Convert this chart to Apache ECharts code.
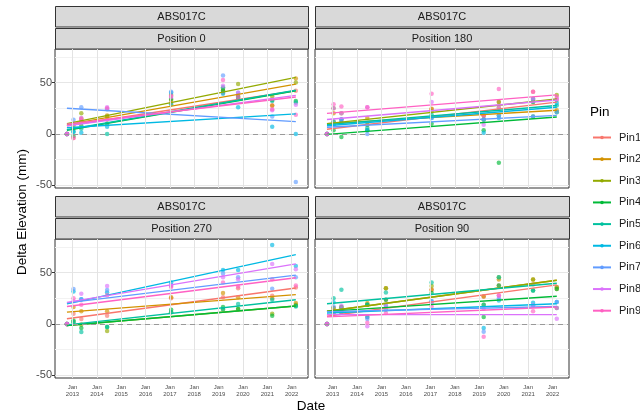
<!DOCTYPE html>
<html>
<head>
<meta charset="utf-8">
<script src="https://cdn.jsdelivr.net/npm/echarts@6/dist/echarts.min.js"></script>
<style>
    html, body { margin: 0; padding: 0; background: #fff; }
    #pin-chart-container { width: 640px; height: 412px; }
</style>
</head>
<body>
<div id="pin-chart-container"></div>
<script>
// Chart data
var siteName = 'ABS017C';
var positions = ['Position 0', 'Position 180', 'Position 270', 'Position 90'];
var pins = ['Pin1', 'Pin2', 'Pin3', 'Pin4', 'Pin5', 'Pin6', 'Pin7', 'Pin8', 'Pin9'];
var pinColors = ['#F8766D', '#D39200', '#93AA00', '#00BA38', '#00C19F', '#00B9E3', '#619CFF', '#DB72FB', '#FF61C3'];
var yearTicks = [2013, 2014, 2015, 2016, 2017, 2018, 2019, 2020, 2021, 2022];
var yTicks = [-50, 0, 50];
var yMinorTicks = [-25, 25, 75];

// survey dates (decimal years)
var surveyDates = [2012.77, 2013.04, 2013.36, 2014.42, 2017.05, 2019.18, 2019.8, 2021.2, 2022.17];
// Position 90 also has the 2015 survey
var surveyDates90 = [2012.77, 2013.04, 2013.36, 2014.42, 2015.18, 2017.05, 2019.18, 2019.8, 2021.2, 2022.17];

// delta elevation (mm), rows = Pin1..Pin9
var pos0Values = [
    [0, -4, 12, 14, 30, 40, 36, 28, 42],
    [0, 5, 15, 18, 33, 42, 38, 27.5, 54],
    [0, 8, 20, 17, 38, 44, 48.7, 36.5, 50],
    [0, -2, 8, 10, 34, 42, 36, 33, 32],
    [0, 2, 5, 0, 29, 45.5, 34, 32, 30.5],
    [0, 2, 1, 7, 40, 39, 26, 7, 0],
    [0, 13.9, 26, 24, 41, 57, 40, 17, -46.8],
    [0, 10, 15.5, 26, 36, 47, 40, 23, 28.5],
    [0, -3.9, 14, 25, 37, 52.6, 36, 24, 18.7]
];
var pos180Values = [
    [0, 12, 14, 9, 24, 18, 31, 41, 33],
    [0, 20, 11, 15.5, 24.5, 18, 25.5, 31, 23],
    [0, 25, 20, 9, 22, 14, 31, 34, 38],
    [0, 3.5, -2.9, 3.5, 10, 3.5, -28, 17, 21],
    [0, 12, 11, 5.8, 18.7, 14, 18, 31, 27.7],
    [0, 9, 14, 3.5, 15.5, 1, 15.5, 34, 30],
    [0, 9, 14, 0, 15.5, 14, 18, 17, 21.3],
    [0, 25, 20, 26, 31, 9, 25.5, 34, 34],
    [0, 29, 26.8, 26, 39, 18, 43.8, 41, 36]
];
var pos270Values = [
    [0, 10, 4.8, 8, 25, 26, 34.8, 27.4, 35.5],
    [0, 16.5, 12.3, 12.3, 26, 30, 26, 25, 20.3],
    [0, 2, -0.6, -7, 11.3, 14, 14.5, 10, 18.7],
    [0, 3.2, -3.9, -3, 13.9, 16.5, 14.5, 8, 17.7],
    [0, 1.6, -8, -3, 11.3, 14.5, 19.4, 23.5, 17],
    [0, 31.6, 24, 30.6, 40.3, 52.6, 52.6, 76.8, 56.5],
    [0, 33.9, 24, 33, 38, 49, 45.5, 34.2, 45.5],
    [0, 22, 29.4, 37, 37, 45.5, 43.5, 58.4, 53.2],
    [0, 25, 18.7, 28, 36, 40.3, 36.5, 43.5, 37.4]
];
var pos90Values = [
    [0, 10, 11.3, 6.8, 23.5, 33.2, 26.7, 37.4, 38.4, 36],
    [0, 15.5, 14.5, 20.3, 34.8, 33.2, 26.7, 43.2, 43.2, 34],
    [0, 15.5, 16.5, 18.7, 34.8, 37, 18.7, 45.5, 43.2, 35.8],
    [0, 12.3, 16.5, 18.7, 23.5, 30, 6.8, 37.4, 32.5, 34],
    [0, 25, 33.2, 18.7, 30.6, 40.3, 18.7, 45.5, 32.5, 15.5],
    [0, 21, 11.3, 6.8, 17.7, 22, -3.9, 22.8, 20.6, 21.3],
    [0, 17, 14.5, 4.8, 14, 22, -7.7, 25.1, 18, 21.3],
    [0, 12.3, 17.7, -2.3, 17.7, 20, 14.8, 27.7, 18, 5],
    [0, 10, 11.3, 1, 10.6, 17, -12.6, 27.7, 12.2, 15.5]
];

// linear trend per pin: [value at first survey, value at last survey]
var pos0Fit = [[8, 42], [9, 48.5], [10, 55], [3.5, 42], [4, 42.5], [6, 19.5], [25, 12], [8, 37.5], [9.5, 36]];
var pos180Fit = [[4.5, 31], [10, 23], [10, 34], [-0.5, 16.5], [9, 27.7], [8, 26], [6.5, 18], [14, 33], [20, 38]];
var pos270Fit = [[5, 35], [11.5, 28.5], [-1.5, 17.5], [-1.5, 17.5], [-1, 23.5], [19.5, 67.5], [20.5, 47.5], [21, 58.5], [17, 45]];
var pos90Fit = [[7.4, 38], [12.3, 42.5], [12.3, 42.5], [12.2, 27], [19.6, 39.6], [10.6, 19.6], [12, 17], [9, 9], [6.8, 16.4]];

var PinElevationChart = function () {

    var _panelValues = [pos0Values, pos180Values, pos270Values, pos90Values];
    var _panelDates = [surveyDates, surveyDates, surveyDates, surveyDates90];
    var _panelFits = [pos0Fit, pos180Fit, pos270Fit, pos90Fit];

    // panel boxes (px)
    var panelLeft = [55, 315, 55, 315];
    var panelTop = [49, 49, 239, 239];
    var panelWidth = [253, 254, 253, 254];
    var panelHeight = 139;

    var _setChart = function () {
        if (typeof echarts == 'undefined') {
            console.warn('Warning - echarts.min.js is not loaded.');
            return;
        }

        var chartElement = document.getElementById('pin-chart-container');
        if (!chartElement) return;

        var pinChart = echarts.init(chartElement);

        var grids = [], xAxes = [], yAxes = [], series = [], graphics = [];

        for (var p = 0; p < 4; p++) {
            var isBottom = p >= 2;
            var isLeft = p % 2 == 0;

            grids.push({
                left: panelLeft[p],
                top: panelTop[p],
                width: panelWidth[p],
                height: panelHeight,
                show: true,
                backgroundColor: '#fff',
                borderColor: '#333333',
                borderWidth: 1
            });

            xAxes.push({
                type: 'value',
                gridIndex: p,
                min: 2012.28,
                max: 2022.67,
                axisLine: { show: false },
                axisTick: {
                    show: isBottom,
                    customValues: yearTicks,
                    length: 3,
                    lineStyle: { color: '#333333' }
                },
                axisLabel: {
                    show: isBottom,
                    customValues: yearTicks,
                    formatter: function (v) { return 'Jan\n' + Math.round(v); },
                    fontSize: 6,
                    lineHeight: 7,
                    color: '#4D4D4D',
                    margin: 6
                },
                splitLine: { show: false }
            });

            // major y axis
            yAxes.push({
                type: 'value',
                gridIndex: p,
                min: -52.7,
                max: 82.7,
                axisLine: { show: false },
                axisTick: {
                    show: isLeft,
                    customValues: yTicks,
                    length: 3,
                    lineStyle: { color: '#333333' }
                },
                axisLabel: {
                    show: isLeft,
                    customValues: yTicks,
                    fontSize: 11,
                    color: '#4D4D4D',
                    margin: 3
                },
                splitLine: { show: true, lineStyle: { color: '#E6E6E6', width: 1 } }
            });

            // strips
            var stripText = [siteName, positions[p]];
            for (var s = 0; s < 2; s++) {
                var sy = panelTop[p] - 43 + s * 22;
                graphics.push({
                    type: 'rect',
                    shape: { x: panelLeft[p] + 0.5, y: sy + 0.5, width: panelWidth[p], height: 20.5 },
                    style: { fill: '#D9D9D9', stroke: '#333333', lineWidth: 1 },
                    silent: true
                });
                graphics.push({
                    type: 'text',
                    x: panelLeft[p] + panelWidth[p] / 2,
                    y: sy + 11,
                    style: {
                        text: stripText[s],
                        fontSize: 11,
                        fontFamily: 'Liberation Sans, Arial, sans-serif',
                        fill: '#1A1A1A',
                        align: 'center',
                        verticalAlign: 'middle'
                    },
                    silent: true
                });
            }
        }

        // minor y grid lines
        for (var m = 0; m < 4; m++) {
            yAxes.push({
                type: 'value',
                gridIndex: m,
                min: -52.7,
                max: 82.7,
                axisLine: { show: false },
                axisTick: { show: false, customValues: yMinorTicks },
                axisLabel: { show: false, customValues: yMinorTicks },
                splitLine: { show: true, lineStyle: { color: '#F2F2F2', width: 1 } }
            });
        }

        // vertical year grid lines, one empty holder series per panel
        var yearLines = [];
        for (var t = 0; t < yearTicks.length; t++) {
            yearLines.push({ xAxis: yearTicks[t] });
        }
        for (var g = 0; g < 4; g++) {
            series.push({
                name: 'grid' + g,
                type: 'line',
                xAxisIndex: g,
                yAxisIndex: g,
                data: [],
                z: 1,
                silent: true,
                markLine: {
                    silent: true,
                    symbol: 'none',
                    label: { show: false },
                    animation: false,
                    lineStyle: { color: '#E3E3E3', type: 'solid', width: 1, opacity: 1 },
                    data: yearLines
                }
            });
        }

        // trend lines first (legend icon), drawn on top via z
        for (var p2 = 0; p2 < 4; p2++) {
            var dates = _panelDates[p2];
            var fit = _panelFits[p2];
            for (var k = 0; k < pins.length; k++) {
                series.push({
                    name: pins[k],
                    type: 'line',
                    xAxisIndex: p2,
                    yAxisIndex: p2,
                    symbol: 'circle',
                    showSymbol: false,
                    silent: true,
                    z: 4,
                    emphasis: { disabled: true },
                    lineStyle: { color: pinColors[k], width: 1.4 },
                    itemStyle: { color: pinColors[k] },
                    data: [[dates[0], fit[k][0]], [dates[dates.length - 1], fit[k][1]]]
                });
            }
        }

        // measured points
        for (var p3 = 0; p3 < 4; p3++) {
            var dts = _panelDates[p3];
            for (var j = 0; j < pins.length; j++) {
                var pts = [];
                for (var d = 0; d < dts.length; d++) {
                    pts.push([dts[d], _panelValues[p3][j][d]]);
                }
                var pointSeries = {
                    name: pins[j],
                    type: 'scatter',
                    xAxisIndex: p3,
                    yAxisIndex: p3,
                    symbolSize: 4.5,
                    z: 3,
                    itemStyle: { color: pinColors[j], opacity: 0.65 },
                    data: pts
                };
                if (j == 0) {
                    pointSeries.markLine = {
                        silent: true,
                        symbol: 'none',
                        label: { show: false },
                        lineStyle: { color: '#999999', type: [5, 4], width: 1, opacity: 1 },
                        data: [{ yAxis: 0 }]
                    };
                }
                series.push(pointSeries);
            }
        }

        // axis titles
        graphics.push({
            type: 'text',
            x: 22,
            y: 212,
            rotation: Math.PI / 2,
            style: {
                text: 'Delta Elevation (mm)',
                fontSize: 13.5,
                fontFamily: 'Liberation Sans, Arial, sans-serif',
                fill: '#000',
                align: 'center',
                verticalAlign: 'middle'
            },
            silent: true
        });
        graphics.push({
            type: 'text',
            x: 311,
            y: 406,
            style: {
                text: 'Date',
                fontSize: 13.5,
                fontFamily: 'Liberation Sans, Arial, sans-serif',
                fill: '#000',
                align: 'center',
                verticalAlign: 'middle'
            },
            silent: true
        });

        var option = {
            animation: false,
            textStyle: { fontFamily: 'Liberation Sans, Arial, sans-serif' },
            title: {
                text: 'Pin',
                left: 590,
                top: 105,
                padding: 0,
                textStyle: { fontSize: 13.5, fontWeight: 'normal', color: '#000' }
            },
            tooltip: { trigger: 'item' },
            legend: {
                orient: 'vertical',
                left: 592,
                top: 130.5,
                padding: 0,
                data: pins,
                itemWidth: 18,
                itemHeight: 4.5,
                itemGap: 7.65,
                textStyle: { fontSize: 11, lineHeight: 14, color: '#1A1A1A', padding: [0, 0, 0, 3] }
            },
            grid: grids,
            xAxis: xAxes,
            yAxis: yAxes,
            graphic: graphics,
            series: series
        };

        pinChart.setOption(option);

        window.addEventListener('resize', function () {
            pinChart.resize();
        });
    };

    return {
        init: function () {
            _setChart();
        }
    }
}();

document.addEventListener('DOMContentLoaded', function () {
    PinElevationChart.init();
});
</script>
</body>
</html>
